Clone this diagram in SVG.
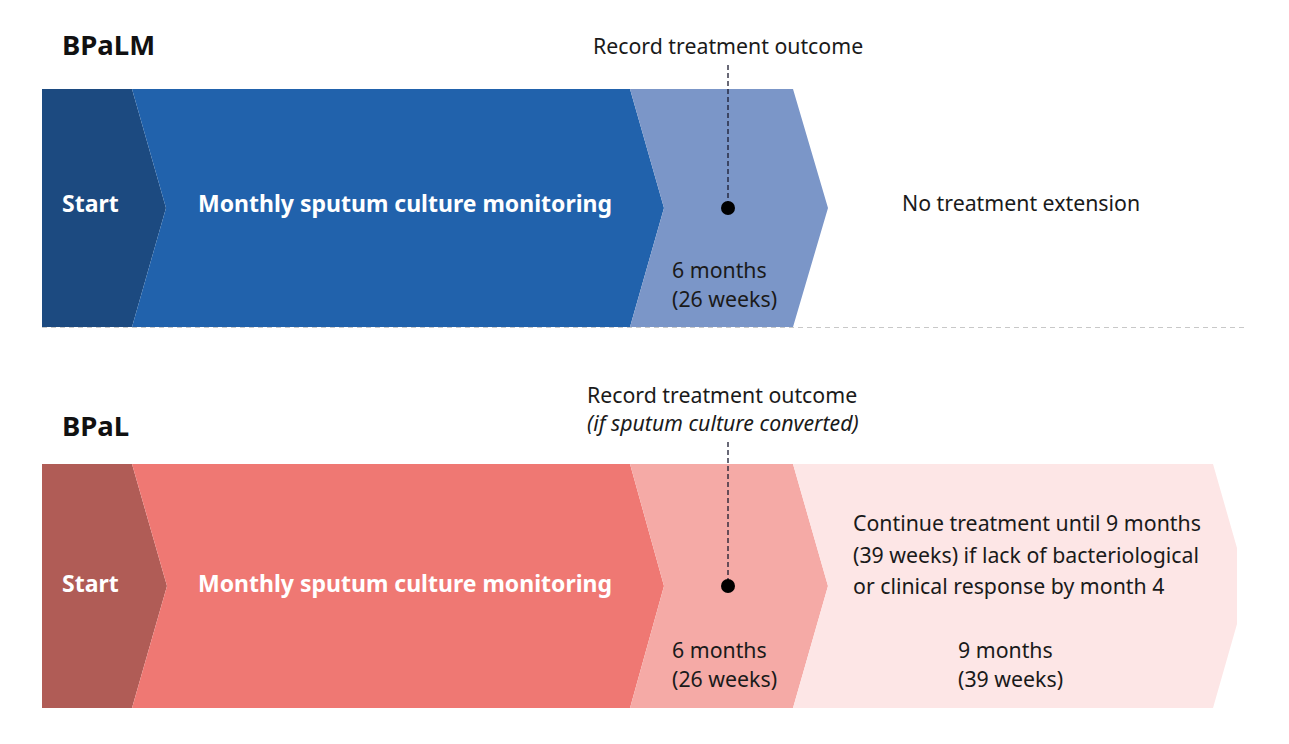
<svg xmlns="http://www.w3.org/2000/svg" width="1289" height="744" viewBox="0 0 1289 744">
<style>
.t{font-family:"Noto Sans","Liberation Sans",sans-serif;font-size:21.3px;fill:#1a1a1a}
.w{fill:#ffffff;font-weight:bold;font-size:23px}
.h{font-family:"Noto Sans","Liberation Sans",sans-serif;font-size:27.5px;font-weight:bold;fill:#111}
.dash{stroke:#1a1a2e;stroke-width:1.3;stroke-dasharray:5,3;fill:none}
</style>
<rect width="1289" height="744" fill="#ffffff"/>
<g id="title-bpalm"><text class="h" x="62" y="55">BPaLM</text></g>
<g id="title-bpal"><text class="h" x="62" y="436">BPaL</text></g>
<g id="bpalm-start"><polygon points="42,89 132,89 166,208 132,327 42,327" fill="#1c4a80"/><text class="t w" x="62" y="212">Start</text></g>
<g id="bpalm-monitor"><polygon points="132,89 630,89 664,208 630,327 132,327 166,208" fill="#2162ac"/><text class="t w" x="198" y="212">Monthly sputum culture monitoring</text></g>
<g id="bpalm-6m"><polygon points="630,89 793,89 828,208 793,327 630,327 664,208" fill="#7b96c8"/><text class="t" x="672" y="278">6 months</text><text class="t" x="672" y="307">(26 weeks)</text></g>
<g id="bpalm-noext"><text class="t" x="902" y="211">No treatment extension</text></g>
<g id="bpalm-record"><text class="t" x="593" y="54">Record treatment outcome</text></g>
<g id="bpal-start"><polygon points="42,464 132,464 167,586 132,708 42,708" fill="#b05c56"/><text class="t w" x="62" y="592">Start</text></g>
<g id="bpal-monitor"><polygon points="132,464 630,464 664,586 630,708 132,708 167,586" fill="#ef7873"/><text class="t w" x="198" y="592">Monthly sputum culture monitoring</text></g>
<g id="bpal-6m"><polygon points="630,464 793,464 828,586 793,708 630,708 664,586" fill="#f5aaa6"/><text class="t" x="672" y="658">6 months</text><text class="t" x="672" y="687">(26 weeks)</text></g>
<g id="bpal-9m"><polygon points="793,464 1213,464 1237,548 1237,624 1213,708 793,708 828,586" fill="#fde6e6"/><text class="t" x="853" y="531">Continue treatment until 9 months</text><text class="t" x="853" y="563">(39 weeks) if lack of bacteriological</text><text class="t" x="853" y="594">or clinical response by month 4</text><text class="t" x="958" y="658">9 months</text><text class="t" x="958" y="687">(39 weeks)</text></g>
<g id="bpal-record"><text class="t" x="587" y="403">Record treatment outcome</text><text class="t" x="587" y="431" font-style="italic">(if sputum culture converted)</text></g>
<g id="connectors">
<line x1="42" y1="327.5" x2="1245" y2="327.5" stroke="#c8c8c8" stroke-width="1.2" stroke-dasharray="5,4"/>
<line class="dash" x1="728" y1="65" x2="728" y2="207"/>
<circle cx="728" cy="208" r="7" fill="#000"/>
<line class="dash" x1="728" y1="442" x2="728" y2="585"/>
<circle cx="728" cy="586" r="7" fill="#000"/>
</g>
</svg>
